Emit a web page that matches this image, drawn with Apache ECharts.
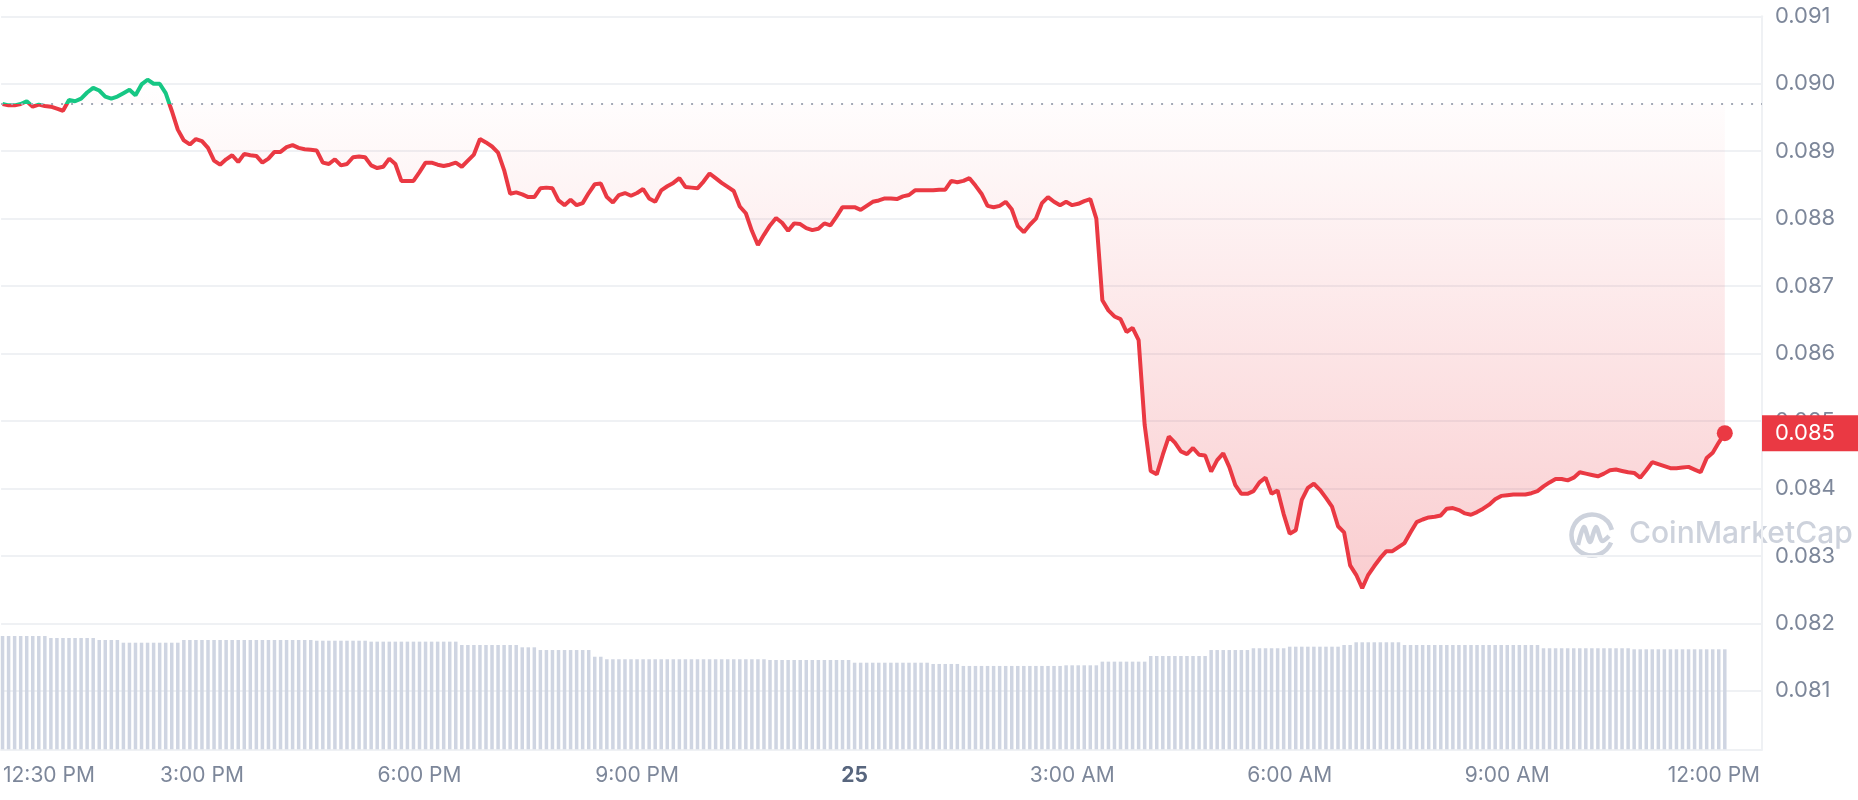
<!DOCTYPE html>
<html>
<head>
<meta charset="utf-8">
<script src="https://cdn.jsdelivr.net/npm/echarts@6/dist/echarts.min.js"></script>
<style>
html,body{margin:0;padding:0;background:#ffffff;}
#chart{width:1858px;height:800px;}
</style>
</head>
<body>
<div id="chart"></div>
<script>
// ---- data ----
// price every 5 minutes, starting 12:15 PM (hours relative to midnight of the 25th)
const prices = [
0.08970,0.08968,0.08968,0.08970,0.08974,0.08966,0.08969,0.08967,0.08966,0.08963,
0.08960,0.08976,0.08974,0.08978,0.08987,0.08994,0.08990,0.08981,0.08978,0.08981,
0.08986,0.08991,0.08983,0.08999,0.09006,0.09000,0.09000,0.08986,0.08960,0.08932,
0.08916,0.08910,0.08918,0.08915,0.08905,0.08886,0.08880,0.08888,0.08894,0.08884,
0.08896,0.08894,0.08893,0.08883,0.08889,0.08899,0.08899,0.08906,0.08909,0.08905,
0.08903,0.08902,0.08901,0.08883,0.08881,0.08888,0.08879,0.08881,0.08891,0.08892,
0.08891,0.08879,0.08875,0.08877,0.08889,0.08881,0.08856,0.08856,0.08856,0.08869,
0.08883,0.08883,0.08880,0.08878,0.08880,0.08883,0.08877,0.08886,0.08895,0.08918,
0.08913,0.08907,0.08898,0.08872,0.08837,0.08839,0.08836,0.08832,0.08832,0.08845,
0.08846,0.08845,0.08827,0.08820,0.08828,0.08820,0.08823,0.08838,0.08851,0.08852,
0.08832,0.08824,0.08835,0.08838,0.08834,0.08838,0.08844,0.08830,0.08825,0.08842,
0.08848,0.08853,0.08860,0.08847,0.08846,0.08845,0.08855,0.08867,0.08860,0.08853,
0.08847,0.08841,0.08818,0.08808,0.08782,0.08761,0.08776,0.08790,0.08801,0.08794,
0.08782,0.08793,0.08792,0.08786,0.08783,0.08785,0.08793,0.08790,0.08803,0.08817,
0.08817,0.08817,0.08813,0.08819,0.08825,0.08827,0.08830,0.08830,0.08829,0.08833,
0.08835,0.08842,0.08842,0.08842,0.08842,0.08843,0.08843,0.08856,0.08854,0.08856,
0.08860,0.08849,0.08837,0.08819,0.08817,0.08819,0.08825,0.08814,0.08789,0.08780,
0.08791,0.08800,0.08823,0.08832,0.08825,0.08820,0.08825,0.08820,0.08822,0.08826,
0.08829,0.08800,0.08679,0.08664,0.08655,0.08651,0.08632,0.08638,0.08620,0.08494,
0.08426,0.08421,0.08450,0.08477,0.08468,0.08455,0.08451,0.08460,0.08450,0.08449,
0.08425,0.08442,0.08452,0.08432,0.08405,0.08392,0.08392,0.08396,0.08409,0.08416,
0.08392,0.08397,0.08362,0.08333,0.08338,0.08383,0.08401,0.08407,0.08398,0.08386,
0.08373,0.08344,0.08335,0.08286,0.08272,0.08252,0.08272,0.08285,0.08297,0.08307,
0.08307,0.08313,0.08319,0.08335,0.08350,0.08354,0.08357,0.08358,0.08360,0.08370,
0.08371,0.08368,0.08363,0.08361,0.08365,0.08370,0.08376,0.08384,0.08389,0.08390,
0.08391,0.08391,0.08391,0.08393,0.08396,0.08403,0.08409,0.08414,0.08414,0.08412,
0.08416,0.08424,0.08422,0.08420,0.08418,0.08422,0.08427,0.08428,0.08426,0.08424,
0.08423,0.08416,0.08427,0.08439,0.08436,0.08433,0.08430,0.08430,0.08431,0.08432,
0.08428,0.08424,0.08445,0.08453,0.08468,0.08482
];
// volume bars (millions), same 5-minute steps
const volumes = [
108.2,108.2,108.2,108.2,108.2,108.2,108.2,108.2,
106.3,106.3,106.3,106.3,106.3,106.3,106.3,106.3,
104.4,104.4,104.4,104.4,
101.8,101.8,101.8,101.8,101.8,101.8,101.8,101.8,101.8,101.8,
104.4,104.4,104.4,104.4,104.4,104.4,104.4,104.4,104.4,104.4,104.4,
104.4,104.4,104.4,104.4,104.4,104.4,104.4,104.4,104.4,104.4,104.4,
103.7,103.7,103.7,103.7,103.7,103.7,103.7,103.7,103.7,
102.8,102.8,102.8,102.8,102.8,102.8,102.8,102.8,102.8,102.8,102.8,102.8,102.8,102.8,102.8,
99.6,99.6,99.6,99.6,99.6,99.6,99.6,99.6,99.6,99.6,
97.4,97.4,97.4,
94.8,94.8,94.8,94.8,94.8,94.8,94.8,94.8,94.8,
88.4,88.4,
86.0,86.0,86.0,86.0,86.0,86.0,86.0,86.0,86.0,86.0,86.0,86.0,86.0,86.0,
86.0,86.0,86.0,86.0,86.0,86.0,86.0,86.0,86.0,86.0,86.0,86.0,86.0,
85.3,85.3,85.3,85.3,85.3,85.3,85.3,85.3,85.3,85.3,85.3,85.3,85.3,85.3,
82.7,82.7,82.7,82.7,82.7,82.7,82.7,82.7,82.7,82.7,82.7,82.7,82.7,
81.5,81.5,81.5,81.5,81.5,
79.6,79.6,79.6,79.6,79.6,79.6,79.6,79.6,79.6,79.6,79.6,79.6,79.6,79.6,79.6,79.6,79.6,
80.2,80.2,80.2,80.2,80.2,80.2,
83.7,83.7,83.7,83.7,83.7,83.7,83.7,83.7,
89.1,89.1,89.1,89.1,89.1,89.1,89.1,89.1,89.1,89.1,
94.8,94.8,94.8,94.8,94.8,94.8,94.8,
96.5,96.5,96.5,96.5,96.5,96.5,
98.0,98.0,98.0,98.0,98.0,98.0,98.0,98.0,98.0,
99.6,99.6,
102.2,102.2,102.2,102.2,102.2,102.2,102.2,102.2,
99.6,99.6,99.6,99.6,99.6,99.6,99.6,99.6,99.6,99.6,99.6,99.6,
99.6,99.6,99.6,99.6,99.6,99.6,99.6,99.6,99.6,99.6,99.6,
96.5,96.5,96.5,96.5,96.5,96.5,96.5,96.5,96.5,96.5,96.5,96.5,96.5,96.5,96.5,
95.5,95.5,95.5,95.5,95.5,95.5,95.5,95.5,95.5,95.5,95.5,95.5,95.5,95.5,95.5,95.5
];
const START_HOUR = -11.75;        // 12:15 PM
const STEP_HOURS = 5 / 60;        // 5 minutes
const BASE_PRICE = 0.08970;       // dotted reference (opening) price
const tickHours  = [-11.11, -9, -6, -3, 0, 3, 6, 9, 11.85];
const tickLabels = ['12:30 PM', '3:00 PM', '6:00 PM', '9:00 PM', '25', '3:00 AM', '6:00 AM', '9:00 AM', '12:00 PM'];

// ---- build ----
const times = prices.map((_, i) => START_HOUR + i * STEP_HOURS);
const priceData = times.map((t, i) => [t, prices[i]]);
const volumeData = times.map((t, i) => [t, volumes[i]]);
const lastIdx = prices.length - 1;
const lastPrice = prices[lastIdx];

const FONT = 'Inter, "Noto Sans", sans-serif';
const RED = '#ea3943';
const GREEN = '#16c784';
const GRID_COLOR = '#eff1f4';
const LABEL_COLOR = '#7d879a';

const chart = echarts.init(document.getElementById('chart'), null, {renderer: 'canvas'});
chart.setOption({
  animation: false,
  backgroundColor: '#ffffff',
  grid: {left: 0, right: 96, top: 16.3, bottom: 50.7},
  xAxis: {
    type: 'value',
    min: -11.77,
    max: 12.513,
    axisLine: {show: true, onZero: false, lineStyle: {color: GRID_COLOR, width: 2}},
    axisTick: {show: false},
    splitLine: {show: false},
    axisLabel: {
      customValues: tickHours,
      showMinLabel: true,
      showMaxLabel: true,
      hideOverlap: false,
      color: LABEL_COLOR,
      fontSize: 21,
      fontFamily: FONT,
      margin: 16,
      formatter: function (v) {
        let k = 0, best = Infinity;
        tickHours.forEach((h, j) => { const d = Math.abs(h - v); if (d < best) { best = d; k = j; } });
        const s = tickLabels[k];
        return s === '25' ? '{d|' + s + '}' : s;
      },
      rich: {d: {fontWeight: 'bold', color: '#58667e', fontSize: 21, fontFamily: FONT}}
    }
  },
  yAxis: [
    {
      type: 'value',
      position: 'right',
      min: 0.080133,
      max: 0.091,
      splitNumber: 11,
      axisLine: {show: true, onZero: false, lineStyle: {color: GRID_COLOR, width: 2}},
      axisTick: {show: false},
      splitLine: {show: true, lineStyle: {color: GRID_COLOR, width: 2}},
      axisLabel: {
        showMinLabel: false,
        color: LABEL_COLOR,
        fontSize: 22,
        fontFamily: FONT,
        margin: 13,
        formatter: v => v.toFixed(3)
      }
    },
    {type: 'value', show: false, min: 0, max: 700, axisLine: {onZero: false}}
  ],
  visualMap: {
    show: false,
    type: 'piecewise',
    seriesIndex: 1,
    dimension: 1,
    pieces: [
      {gt: BASE_PRICE, lte: 1, color: GREEN},
      {gte: 0, lte: BASE_PRICE, color: RED}
    ]
  },
  graphic: [
    {
      type: 'group', left: 1569, top: 512, silent: true, z: 0,
      children: [
        {type: 'arc', shape: {cx: 23, cy: 23, r: 20.5, startAngle: Math.PI * 0.12, endAngle: Math.PI * 1.92, clockwise: true},
         style: {stroke: '#cdd2dc', lineWidth: 4.5, fill: null}},
        {type: 'polyline', shape: {points: [[9, 33], [15, 15], [21, 30], [27, 15], [33, 29], [40, 24]], smooth: 0.3},
         style: {stroke: '#cdd2dc', lineWidth: 4.5, fill: null}}
      ]
    },
    {
      type: 'text', left: 1629, top: 519, silent: true, z: 0,
      style: {text: 'CoinMarketCap', font: '500 30px ' + FONT, fill: '#cdd2dc'}
    }
  ],
  series: [
    {
      name: 'Volume',
      type: 'bar',
      xAxisIndex: 0,
      yAxisIndex: 1,
      data: volumeData,
      barWidth: 3.5,
      silent: true,
      itemStyle: {color: '#cfd5e2'},
      z: 1
    },
    {
      name: 'Price',
      type: 'line',
      xAxisIndex: 0,
      yAxisIndex: 0,
      data: priceData,
      symbol: 'none',
      silent: true,
      z: 3,
      lineStyle: {width: 4},
      areaStyle: {
        origin: BASE_PRICE,
        color: {
          type: 'linear', x: 0, y: 0, x2: 0, y2: 1,
          colorStops: [
            {offset: 0, color: 'rgba(234,57,67,0)'},
            {offset: 1, color: 'rgba(234,57,67,0.36)'}
          ]
        }
      },
      markLine: {
        silent: true,
        symbol: 'none',
        precision: 6,
        data: [
          {yAxis: BASE_PRICE, lineStyle: {color: '#a3a9b6', width: 2, type: [2, 8]}, label: {show: false}},
          {yAxis: lastPrice, lineStyle: {color: 'rgba(255,255,255,0)', width: 0, opacity: 1},
           label: {show: true, position: 'end', distance: 0, formatter: lastPrice.toFixed(3),
                   backgroundColor: RED, color: '#ffffff', fontSize: 22, fontFamily: FONT,
                   lineHeight: 22, padding: [7, 30, 7, 13]}}
        ]
      },
      markPoint: {
        silent: true,
        symbol: 'circle',
        symbolSize: 16,
        label: {show: false},
        data: [{coord: [times[lastIdx], lastPrice], itemStyle: {color: RED}}]
      }
    }
  ]
});
</script>
</body>
</html>
